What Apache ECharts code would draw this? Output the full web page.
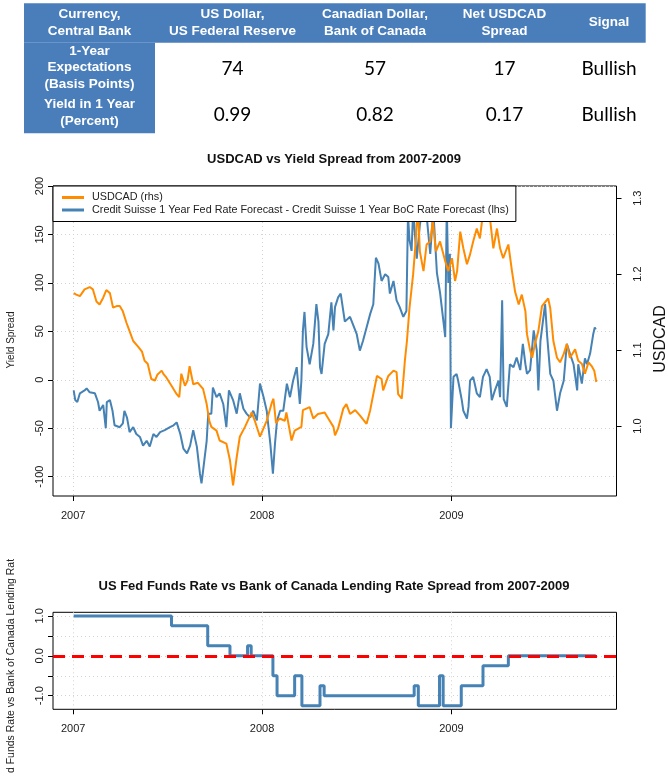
<!DOCTYPE html>
<html><head><meta charset="utf-8">
<script src="https://cdn.jsdelivr.net/npm/echarts@6/dist/echarts.min.js"></script>
<style>html,body{margin:0;padding:0;background:#fff}#c{width:668px;height:783px}</style>
</head><body><div id="c"></div>
<script>
// ---------- table ----------
const tableHeaders = ['Currency,\nCentral Bank', 'US Dollar,\nUS Federal Reserve', 'Canadian Dollar,\nBank of Canada', 'Net USDCAD\nSpread', 'Signal'];
const tableRowLabels = ['1-Year\nExpectations\n(Basis Points)', 'Yield in 1 Year\n(Percent)'];
const tableRow1 = ['74', '57', '17', 'Bullish'];
const tableRow2 = ['0.99', '0.82', '0.17', 'Bullish'];

// ---------- chart 1: USDCAD (rhs) ----------
const usdcadDates = ['2007-01-02','2007-01-07','2007-01-14','2007-01-23','2007-02-02','2007-02-08','2007-02-15','2007-02-21','2007-02-28','2007-03-06','2007-03-13','2007-03-19','2007-03-26','2007-04-01','2007-04-07','2007-04-14','2007-04-20','2007-04-27','2007-05-06','2007-05-14','2007-05-19','2007-05-25','2007-06-01','2007-06-08','2007-06-13','2007-06-21','2007-06-25','2007-06-30','2007-07-10','2007-07-20','2007-07-25','2007-07-29','2007-08-05','2007-08-10','2007-08-14','2007-08-21','2007-08-30','2007-09-09','2007-09-16','2007-09-21','2007-09-25','2007-10-05','2007-10-11','2007-10-24','2007-10-31','2007-11-06','2007-11-13','2007-11-19','2007-11-29','2007-12-12','2007-12-18','2007-12-28','2008-01-10','2008-01-20','2008-01-23','2008-01-28','2008-02-04','2008-02-14','2008-02-17','2008-02-27','2008-03-04','2008-03-17','2008-03-20','2008-04-02','2008-04-09','2008-04-18','2008-05-01','2008-05-08','2008-05-18','2008-05-21','2008-05-27','2008-06-06','2008-06-12','2008-06-19','2008-06-29','2008-07-08','2008-07-21','2008-07-28','2008-08-03','2008-08-10','2008-08-19','2008-08-22','2008-09-01','2008-09-11','2008-09-17','2008-09-20','2008-09-27','2008-09-30','2008-10-03','2008-10-07','2008-10-12','2008-10-19','2008-10-24','2008-10-28','2008-11-01','2008-11-08','2008-11-14','2008-11-21','2008-11-26','2008-12-02','2008-12-10','2008-12-20','2008-12-26','2009-01-02','2009-01-08','2009-01-12','2009-01-18','2009-01-24','2009-01-31','2009-02-06','2009-02-12','2009-02-19','2009-02-25','2009-03-03','2009-03-11','2009-03-17','2009-03-23','2009-03-30','2009-04-05','2009-04-11','2009-04-21','2009-04-28','2009-05-04','2009-05-11','2009-05-17','2009-05-24','2009-05-27','2009-06-02','2009-06-06','2009-06-12','2009-06-18','2009-06-25','2009-07-01','2009-07-07','2009-07-11','2009-07-17','2009-07-24','2009-07-30','2009-08-06','2009-08-12','2009-08-18','2009-08-28','2009-09-03','2009-09-10','2009-09-16','2009-09-23','2009-09-29','2009-10-04','2009-10-08'];
const usdcadValues = [1.175,1.173,1.171,1.180,1.183,1.180,1.164,1.160,1.169,1.179,1.175,1.156,1.158,1.158,1.151,1.136,1.125,1.112,1.105,1.098,1.086,1.082,1.062,1.060,1.068,1.073,1.068,1.064,1.053,1.042,1.038,1.069,1.053,1.060,1.079,1.055,1.057,1.049,1.029,1.007,0.999,0.994,0.981,0.977,0.955,0.922,0.959,0.986,0.999,1.018,1.007,0.986,1.007,1.031,1.036,1.004,1.010,1.007,1.018,0.981,0.994,0.999,1.021,1.025,1.010,1.016,1.018,1.010,0.999,0.988,0.997,1.023,1.029,1.016,1.021,1.014,1.003,1.021,1.042,1.066,1.062,1.047,1.066,1.073,1.071,1.042,1.036,1.060,1.086,1.112,1.156,1.200,1.243,1.290,1.230,1.204,1.239,1.243,1.270,1.230,1.243,1.217,1.204,1.221,1.191,1.204,1.256,1.234,1.213,1.226,1.243,1.260,1.247,1.280,1.290,1.270,1.234,1.260,1.234,1.221,1.239,1.204,1.177,1.160,1.173,1.151,1.121,1.100,1.090,1.110,1.125,1.158,1.163,1.168,1.155,1.112,1.090,1.084,1.095,1.108,1.090,1.101,1.086,1.082,1.069,1.084,1.079,1.073,1.058];

// ---------- chart 1: yield spread (lhs) ----------
const spreadDates = ['2007-01-02','2007-01-05','2007-01-09','2007-01-14','2007-01-23','2007-01-27','2007-02-02','2007-02-12','2007-02-18','2007-02-21','2007-02-28','2007-03-05','2007-03-07','2007-03-13','2007-03-18','2007-03-22','2007-04-01','2007-04-07','2007-04-10','2007-04-15','2007-04-20','2007-04-27','2007-05-03','2007-05-10','2007-05-16','2007-05-23','2007-05-29','2007-06-05','2007-06-11','2007-06-18','2007-06-27','2007-07-07','2007-07-14','2007-07-20','2007-07-27','2007-08-02','2007-08-09','2007-08-15','2007-08-21','2007-08-28','2007-09-03','2007-09-06','2007-09-09','2007-09-16','2007-09-19','2007-09-25','2007-09-28','2007-10-05','2007-10-11','2007-10-18','2007-10-24','2007-10-29','2007-11-06','2007-11-13','2007-11-19','2007-11-26','2007-12-02','2007-12-09','2007-12-15','2007-12-22','2007-12-28','2008-01-04','2008-01-10','2008-01-17','2008-01-22','2008-01-26','2008-01-30','2008-02-05','2008-02-11','2008-02-18','2008-02-24','2008-03-01','2008-03-08','2008-03-14','2008-03-17','2008-03-20','2008-03-23','2008-03-27','2008-04-02','2008-04-09','2008-04-15','2008-04-19','2008-04-22','2008-04-25','2008-05-01','2008-05-08','2008-05-14','2008-05-18','2008-05-21','2008-05-27','2008-06-01','2008-06-09','2008-06-19','2008-07-02','2008-07-08','2008-07-14','2008-07-21','2008-07-28','2008-08-03','2008-08-08','2008-08-13','2008-08-19','2008-08-26','2008-09-01','2008-09-04','2008-09-11','2008-09-17','2008-09-23','2008-09-30','2008-10-06','2008-10-09','2008-10-12','2008-10-16','2008-10-19','2008-10-26','2008-11-01','2008-11-08','2008-11-14','2008-11-21','2008-11-27','2008-12-04','2008-12-10','2008-12-17','2008-12-20','2008-12-23','2008-12-26','2008-12-29','2008-12-31','2009-01-05','2009-01-11','2009-01-14','2009-01-21','2009-01-24','2009-01-31','2009-02-03','2009-02-06','2009-02-12','2009-02-19','2009-02-25','2009-03-03','2009-03-10','2009-03-16','2009-03-20','2009-03-26','2009-04-02','2009-04-05','2009-04-09','2009-04-12','2009-04-18','2009-04-24','2009-05-01','2009-05-07','2009-05-14','2009-05-19','2009-05-24','2009-05-27','2009-06-02','2009-06-09','2009-06-15','2009-06-18','2009-06-22','2009-07-01','2009-07-05','2009-07-11','2009-07-17','2009-07-24','2009-07-30','2009-08-06','2009-08-12','2009-08-18','2009-08-25','2009-09-01','2009-09-03','2009-09-10','2009-09-16','2009-09-20','2009-09-26','2009-10-02','2009-10-05','2009-10-07'];
const spreadValues = [-11,-21,-23,-14,-11,-9,-13,-14,-23,-32,-26,-50,-23,-21,-32,-47,-49,-45,-32,-39,-54,-49,-56,-59,-68,-63,-69,-56,-59,-54,-52,-49,-47,-44,-56,-71,-76,-68,-52,-69,-97,-107,-94,-63,-35,-35,-8,-18,-14,-25,-49,-11,-21,-35,-14,-30,-35,-39,-32,-42,-4,-18,-32,-66,-97,-66,-42,-32,-32,-4,-18,-1,13,-25,-1,51,70,34,16,37,78,60,13,6,37,47,80,51,75,85,89,60,65,47,30,40,54,68,78,126,120,102,109,106,89,102,82,75,65,71,170,144,133,175,125,160,185,170,130,175,110,90,58,44,180,100,130,-50,3,6,-1,-21,-32,-40,-28,-1,3,-14,-18,3,11,3,-21,-11,-1,-18,82,-20,-28,16,13,23,10,37,16,6,10,51,30,-11,40,78,45,6,-1,-32,-14,-1,37,27,16,-11,16,-4,22,16,27,47,54,52];

// ---------- chart 2: policy rate spread ----------
const policyDates = ['2007-01-02','2007-07-10','2007-09-18','2007-10-31','2007-12-04','2007-12-11','2008-01-22','2008-01-30','2008-03-04','2008-03-18','2008-04-22','2008-04-30','2008-10-21','2008-10-29','2008-12-09','2008-12-16','2009-01-20','2009-03-03','2009-04-21','2009-10-07'];
const policyValues = [1.0,0.75,0.25,0.0,0.25,0.0,-0.5,-1.0,-0.5,-1.25,-0.75,-1.0,-0.75,-1.25,-0.5,-1.25,-0.75,-0.25,0.0,0.0];

const yearTicks = ['2007-01-01','2008-01-01','2009-01-01'];
const spreadTicks = [-100,-50,0,50,100,150,200];
const usdcadTicks = [1.0,1.1,1.2,1.3];
const policyTicks = [-1.0,-0.5,0.0,0.5,1.0];
const policyLabelTicks = [-1.0,0.0,1.0];

// ---------- helpers ----------
function toMs(s){const p=s.split('-').map(Number);return Date.UTC(p[0],p[1]-1,p[2]);}
const pair=(d,v)=>d.map((x,i)=>[toMs(x),v[i]]);
const xMin=toMs('2006-11-23'), xMax=toMs('2009-11-16');
const FONT='Liberation Sans, Arial, sans-serif';
const BLUE='#4682B4', ORANGE='#FF8C00', HDR='#4A7EBB';
const gridLine={show:true,lineStyle:{color:'#d3d3d3',type:[1,3],width:1}};

function xAxisDef(gi){
  return {type:'value',gridIndex:gi,min:xMin,max:xMax,position:'bottom',
    axisLine:{show:false,onZero:false},
    axisTick:{show:true,length:5,lineStyle:{color:'#000'},customValues:yearTicks.map(toMs)},
    axisLabel:{show:true,customValues:yearTicks.map(toMs),margin:14,fontSize:11,color:'#1a1a1a',fontFamily:FONT,
      formatter:v=>String(new Date(v).getUTCFullYear())},
    splitLine:gridLine};
}

// table graphics
const colX=[89.5,232.5,375,504.5,609];
const g=[];
g.push({type:'rect',shape:{x:24,y:3.3,width:621.7,height:39.4},style:{fill:HDR},silent:true});
g.push({type:'rect',shape:{x:24,y:42.7,width:131,height:90.6},style:{fill:HDR},silent:true});
tableHeaders.forEach((t,i)=>g.push({type:'text',x:colX[i],y:22.5,style:{text:t,fill:'#fff',font:'bold 13.5px '+FONT,textAlign:'center',textVerticalAlign:'middle',lineHeight:16.7}}));
const rowY=[67.5,112.5], valY=[69,115];
tableRowLabels.forEach((t,i)=>g.push({type:'text',x:colX[0],y:rowY[i],style:{text:t,fill:'#fff',font:'bold 13.5px '+FONT,textAlign:'center',textVerticalAlign:'middle',lineHeight:16.7}}));
[tableRow1,tableRow2].forEach((row,r)=>row.forEach((t,i)=>g.push({type:'text',x:colX[i+1],y:valY[r],style:{text:t,fill:'#000',font:'19px Lato, sans-serif',textAlign:'center',textVerticalAlign:'middle'}})));
// axis titles
g.push({type:'text',x:11.5,y:340,rotation:Math.PI/2,style:{text:'Yield Spread',fill:'#222',font:'10px '+FONT,textAlign:'center',textVerticalAlign:'middle'}});
g.push({type:'text',x:661,y:339,rotation:Math.PI/2,style:{text:'USDCAD',fill:'#111',font:'16px '+FONT,textAlign:'center',textVerticalAlign:'middle'}});
g.push({type:'text',x:11,y:666,rotation:Math.PI/2,style:{text:'d Funds Rate vs Bank of Canada Lending Rat',fill:'#222',font:'10.5px '+FONT,textAlign:'center',textVerticalAlign:'middle'}});

const chart=echarts.init(document.getElementById('c'),null,{renderer:'canvas'});
chart.setOption({
  animation:false,
  backgroundColor:'#fff',
  textStyle:{fontFamily:FONT},
  title:[
    {text:'USDCAD vs Yield Spread from 2007-2009',left:'center',top:153,padding:0,textStyle:{fontSize:13,fontWeight:'bold',color:'#111',fontFamily:FONT}},
    {text:'US Fed Funds Rate vs Bank of Canada Lending Rate Spread from 2007-2009',left:'center',top:580,padding:0,textStyle:{fontSize:13,fontWeight:'bold',color:'#111',fontFamily:FONT}}
  ],
  legend:{data:['USDCAD (rhs)','Credit Suisse 1 Year Fed Rate Forecast - Credit Suisse 1 Year BoC Rate Forecast (lhs)'],
    orient:'vertical',left:53,top:186,padding:[5.5,7,5.5,9],itemGap:0.5,itemWidth:22,itemHeight:3,icon:'rect',
    backgroundColor:'#fff',borderColor:'#000',borderWidth:1,borderRadius:0,selectedMode:false,z:10,
    textStyle:{fontSize:10.8,color:'#222',fontFamily:FONT,lineHeight:12,padding:[0,0,0,3]}},
  grid:[
    {left:53,right:51.5,top:186,height:310,show:true,borderColor:'#000',borderWidth:1,backgroundColor:'transparent'},
    {left:53,right:51.5,top:612.3,height:97,show:true,borderColor:'#000',borderWidth:1,backgroundColor:'transparent'}
  ],
  xAxis:[xAxisDef(0),xAxisDef(1)],
  yAxis:[
    {type:'value',gridIndex:0,position:'left',min:-120,max:200,
      axisLine:{show:false,onZero:false},
      axisTick:{show:true,length:5,lineStyle:{color:'#000'},customValues:spreadTicks},
      axisLabel:{customValues:spreadTicks,rotate:90,margin:8,fontSize:11,color:'#1a1a1a',fontFamily:FONT},
      splitLine:gridLine},
    {type:'value',gridIndex:0,position:'right',min:0.908,max:1.316,
      axisLine:{show:false,onZero:false},
      axisTick:{show:true,length:5,lineStyle:{color:'#000'},customValues:usdcadTicks},
      axisLabel:{customValues:usdcadTicks,rotate:90,margin:16,fontSize:11,color:'#1a1a1a',fontFamily:FONT,formatter:v=>v.toFixed(1)},
      splitLine:{show:false}},
    {type:'value',gridIndex:1,position:'left',min:-1.34,max:1.09,
      axisLine:{show:false,onZero:false},
      axisTick:{show:true,length:5,lineStyle:{color:'#000'},customValues:policyTicks},
      axisLabel:{customValues:policyLabelTicks,rotate:90,margin:8,fontSize:11,color:'#1a1a1a',fontFamily:FONT,formatter:v=>v.toFixed(1)},
      splitLine:gridLine}
  ],
  series:[
    {name:'Credit Suisse 1 Year Fed Rate Forecast - Credit Suisse 1 Year BoC Rate Forecast (lhs)',type:'line',xAxisIndex:0,yAxisIndex:0,
      data:pair(spreadDates,spreadValues),showSymbol:false,symbol:'none',lineStyle:{color:BLUE,width:2},itemStyle:{color:BLUE},z:2},
    {name:'USDCAD (rhs)',type:'line',xAxisIndex:0,yAxisIndex:1,
      data:pair(usdcadDates,usdcadValues),showSymbol:false,symbol:'none',lineStyle:{color:ORANGE,width:2},itemStyle:{color:ORANGE},z:3},
    {name:'Policy spread',type:'line',xAxisIndex:1,yAxisIndex:2,step:'end',
      data:pair(policyDates,policyValues),showSymbol:false,symbol:'none',lineStyle:{color:BLUE,width:3},itemStyle:{color:BLUE},z:2,
      markLine:{silent:true,symbol:'none',label:{show:false},lineStyle:{color:'#FF0000',width:3,type:[12,7]},data:[{yAxis:0}],z:5}}
  ],
  graphic:g
});
</script></body></html>
